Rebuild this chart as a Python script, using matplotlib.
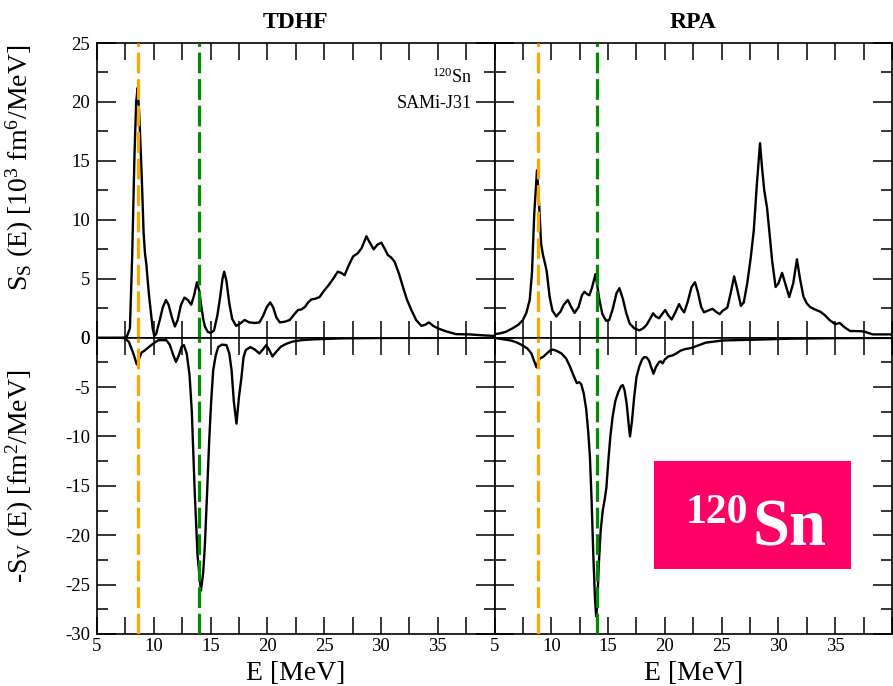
import matplotlib
matplotlib.use("Agg")
import matplotlib.pyplot as plt
from matplotlib.ticker import MultipleLocator, FixedLocator
from matplotlib.patches import Rectangle

# ---- strength functions of 120Sn (SAMi-J31) ----
# TDHF, isoscalar strength S_S [10^3 fm^6/MeV]
tdhf_s_E = [5.0, 6.0, 7.0, 7.6, 7.9, 8.1, 8.3, 8.45, 8.58, 8.72, 8.93, 9.1, 9.22, 9.35,
            9.46, 9.6, 9.75, 9.9, 10.04, 10.2, 10.5, 10.8, 11.07, 11.3, 11.6, 11.86, 12.1,
            12.4, 12.7, 13.0, 13.3, 13.55, 13.8, 14.0, 14.15, 14.35, 14.5, 14.75, 15.0,
            15.3, 15.6, 15.85, 16.05, 16.2, 16.4, 16.65, 16.9, 17.25, 17.6, 18.0, 18.4,
            18.9, 19.3, 19.6, 19.95, 20.25, 20.5, 20.8, 21.1, 21.5, 21.97, 22.3, 22.7,
            23.0, 23.3, 23.6, 23.88, 24.2, 24.6, 25.0, 25.35, 25.8, 26.2, 26.5, 26.8,
            27.1, 27.55, 27.95, 28.3, 28.72, 29.0, 29.36, 29.7, 30.04, 30.3, 30.62, 30.9,
            31.2, 31.6, 31.94, 32.3, 32.68, 33.1, 33.56, 33.9, 34.23, 34.6, 35.0, 35.7,
            36.6, 37.8, 39.0, 40.0]
tdhf_s_val = [0.0, 0.0, 0.0, 0.02, 0.8, 7.0, 15.5, 20.0, 21.2, 19.0, 13.9, 9.0, 7.2, 6.2,
              4.9, 3.4, 2.1, 0.8, 0.15, 0.3, 1.4, 2.6, 3.2, 2.8, 1.7, 0.95, 1.5,
              2.8, 3.4, 3.2, 2.8, 3.6, 4.7, 4.0, 2.9, 1.6, 0.95, 0.5, 0.4,
              0.6, 1.9, 3.5, 5.0, 5.6, 4.8, 2.9, 1.6, 1.0, 1.2, 1.5, 1.3,
              1.25, 1.3, 1.8, 2.6, 3.0, 2.6, 1.7, 1.3, 1.35, 1.5, 1.9, 2.35,
              2.4, 2.6, 3.0, 3.25, 3.3, 3.45, 4.0, 4.4, 5.0, 5.6, 5.5, 5.3,
              6.0, 6.9, 7.15, 7.6, 8.6, 8.1, 7.5, 7.9, 8.06, 7.6, 7.0, 6.8,
              6.45, 5.4, 4.3, 3.2, 2.35, 1.5, 1.0, 1.1, 1.3, 1.0, 0.8, 0.55,
              0.3, 0.28, 0.2, 0.15]

# TDHF, isovector strength -S_V [fm^2/MeV]
tdhf_v_E = [5.0, 7.0, 7.4, 7.8, 8.2, 8.5, 8.75, 8.93, 9.2, 9.5, 9.95, 10.4, 11.1, 11.4,
            11.7, 11.95, 12.2, 12.45, 12.65, 12.9, 13.15, 13.35, 13.6, 13.85, 14.15,
            14.35, 14.5, 14.7, 14.88, 15.05, 15.23, 15.45, 15.67, 16.0, 16.4, 16.65,
            16.85, 17.05, 17.28, 17.5, 17.72, 17.9, 18.1, 18.5, 18.9, 19.3, 19.6, 19.9,
            20.15, 20.45, 20.8, 21.2, 21.7, 22.2, 23.0, 24.0, 26.5, 30.0, 40.0]
tdhf_v_val = [0.0, 0.0, -0.05, -0.4, -1.6, -2.7, -2.0, -1.5, -1.3, -1.0, -0.6, -0.25, -0.25, -0.7,
              -1.7, -2.45, -1.8, -0.9, -0.75, -1.6, -3.8, -7.5, -15.5, -22.0, -25.6,
              -23.8, -21.0, -15.5, -10.4, -6.5, -3.3, -1.8, -0.95, -0.7, -0.75, -1.6,
              -3.3, -6.5, -8.7, -6.0, -4.0, -2.0, -1.25, -0.95, -1.2, -1.6, -1.2, -0.75,
              -1.2, -1.9, -1.4, -0.9, -0.6, -0.4, -0.25, -0.17, -0.07, -0.03, 0.0]

# RPA, isoscalar strength S_S [10^3 fm^6/MeV]
rpa_s_E = [5.0, 5.5, 6.0, 6.6, 7.1, 7.5, 7.8, 8.1, 8.3, 8.5, 8.74, 8.91, 9.1, 9.27, 9.45,
           9.6, 9.85, 10.1, 10.44, 10.8, 11.1, 11.46, 11.75, 12.05, 12.4, 12.7, 12.92,
           13.15, 13.36, 13.6, 13.89, 14.05, 14.24, 14.5, 14.82, 15.1, 15.4, 15.75, 16.0,
           16.3, 16.6, 16.9, 17.3, 17.75, 18.1, 18.4, 18.7, 18.97, 19.2, 19.5, 19.75,
           20.03, 20.3, 20.6, 20.9, 21.25, 21.5, 21.7, 22.0, 22.35, 22.65, 22.9, 23.2,
           23.45, 23.8, 24.2, 24.5, 24.83, 25.1, 25.5, 25.8, 26.1, 26.35, 26.7, 26.95,
           27.25, 27.55, 27.83, 28.1, 28.38, 28.55, 28.75, 29.0, 29.2, 29.45, 29.75,
           30.0, 30.32, 30.6, 30.95, 31.3, 31.63, 31.9, 32.2, 32.5, 32.8, 33.2, 33.7,
           34.1, 34.5, 35.0, 35.4, 35.8, 36.3, 37.3, 37.6, 38.3, 40.0]
rpa_s_val = [0.3, 0.37, 0.5, 0.8, 1.1, 1.5, 2.1, 3.2, 5.5, 10.5, 14.2, 11.7, 8.0, 7.0, 6.3,
             5.6, 3.5, 2.3, 1.8, 2.2, 2.8, 3.2, 2.6, 2.1, 2.6, 3.6, 3.9,
             3.7, 3.6, 4.3, 5.4, 4.4, 3.2, 2.0, 1.44, 1.5, 2.4, 3.8, 4.2,
             3.3, 2.1, 1.2, 0.8, 0.62, 0.8, 1.1, 1.6, 2.07, 1.8, 1.65, 2.0,
             2.35, 1.9, 1.55, 2.1, 2.85, 2.4, 2.15, 3.0, 4.3, 4.7, 3.9, 2.6,
             2.15, 2.3, 2.45, 2.2, 2.0, 2.3, 2.55, 3.8, 5.2, 4.2, 2.7, 3.0,
             4.6, 6.7, 9.1, 13.0, 16.5, 14.5, 12.5, 11.0, 9.0, 6.5, 4.3,
             4.6, 5.5, 4.6, 3.45, 4.6, 6.65, 5.0, 3.5, 2.9, 2.6, 2.4, 2.2,
             1.9, 1.5, 1.15, 1.25, 0.9, 0.57, 0.55, 0.5, 0.28, 0.28]

# RPA, isovector strength -S_V [fm^2/MeV]
rpa_v_E = [5.0, 6.0, 6.5, 7.0, 7.5, 7.9, 8.25, 8.5, 8.7, 8.85, 9.0, 9.27, 9.6, 9.9, 10.15,
           10.5, 10.9, 11.3, 11.6, 11.95, 12.25, 12.45, 12.63, 12.85, 13.07, 13.25, 13.4,
           13.55, 13.7, 13.85, 13.95, 14.05, 14.18, 14.35, 14.53, 14.7, 14.85, 15.0, 15.2,
           15.4, 15.64, 15.9, 16.15, 16.29, 16.45, 16.64, 16.8, 16.93, 17.1, 17.3, 17.5,
           17.75, 18.0, 18.19, 18.4, 18.6, 18.8, 19.0, 19.2, 19.5, 19.65, 19.8, 20.0,
           20.3, 20.67, 21.0, 21.4, 21.8, 22.3, 22.9, 23.6, 25.1, 28.0, 31.0, 35.0, 40.0]
rpa_v_val = [-0.02, -0.2, -0.3, -0.5, -0.8, -1.1, -1.6, -2.4, -3.0, -2.4, -2.1, -1.95, -1.6, -1.3, -1.2,
             -1.35, -1.6, -2.1, -2.8, -3.8, -4.6, -4.5, -4.7, -5.6, -7.2, -9.5, -12.0,
             -16.5, -22.0, -26.5, -28.2, -27.0, -23.0, -19.5, -17.5, -16.4, -15.2, -12.8, -10.0,
             -8.0, -6.4, -5.5, -4.9, -4.8, -5.3, -6.7, -8.6, -10.0, -8.5, -6.0, -4.0,
             -2.9, -2.2, -1.96, -2.0, -2.3, -3.0, -3.65, -3.0, -2.45, -2.4, -2.6, -2.2,
             -1.9, -1.8, -1.6, -1.3, -1.15, -1.05, -0.8, -0.5, -0.28, -0.2, -0.1, -0.05, -0.02]

# marked energies [MeV]: low-lying peak (orange) and isovector peak (green)
tdhf_marks = [8.58, 13.95]
rpa_marks = [8.8, 14.0]
mark_colors = ["#FFA500", "#008C00"]

x_ticks = [5, 10, 15, 20, 25, 30, 35]
upper_ticks = [0, 5, 10, 15, 20, 25]
lower_ticks = [0, -5, -10, -15, -20, -25, -30]

# ---- style ----
plt.rcParams["font.family"] = ["Liberation Serif", "DejaVu Serif"]
plt.rcParams["mathtext.fontset"] = "custom"
plt.rcParams["mathtext.rm"] = "Liberation Serif"
plt.rcParams["mathtext.it"] = "Liberation Serif:italic"
plt.rcParams["mathtext.bf"] = "Liberation Serif:bold"
plt.rcParams["mathtext.default"] = "regular"

W, H = 893, 686
fig = plt.figure(figsize=(W / 100, H / 100), dpi=100)


def px_box(x0, y0, x1, y1):
    return [x0 / W, 1 - y1 / H, (x1 - x0) / W, (y1 - y0) / H]


def fx(x):
    return x / W


def fy(y):
    return 1 - y / H


XL, XM, XR = 97, 494.5, 892
YT, YM, YB = 43, 337.7, 634

ax_tl = fig.add_axes(px_box(XL, YT, XM, YM))
ax_tr = fig.add_axes(px_box(XM, YT, XR, YM))
ax_bl = fig.add_axes(px_box(XL, YM, XM, YB))
ax_br = fig.add_axes(px_box(XM, YM, XR, YB))

panels = [
    (ax_tl, tdhf_s_E, tdhf_s_val, tdhf_marks, (0, 25), upper_ticks, True, False),
    (ax_tr, rpa_s_E, rpa_s_val, rpa_marks, (0, 25), upper_ticks, False, False),
    (ax_bl, tdhf_v_E, tdhf_v_val, tdhf_marks, (-30, 0), lower_ticks, True, True),
    (ax_br, rpa_v_E, rpa_v_val, rpa_marks, (-30, 0), lower_ticks, False, True),
]

for ax, E, val, marks, ylim, yt, show_y, show_x in panels:
    ax.plot(E, val, color="black", lw=1.7, zorder=3, solid_joinstyle="round")
    for m, c in zip(marks, mark_colors):
        ax.axvline(m, color=c, lw=2.3, dashes=(6.5, 1.8), zorder=4)
    ax.set_xlim(5, 40)
    ax.set_ylim(*ylim)
    ax.xaxis.set_major_locator(FixedLocator(x_ticks + [40]))
    ax.xaxis.set_minor_locator(MultipleLocator(2.5))
    ax.yaxis.set_major_locator(FixedLocator(yt))
    ax.yaxis.set_minor_locator(MultipleLocator(2.5))
    ax.tick_params(which="both", direction="in", top=True, right=True,
                   width=1.1, colors="black", labelsize=13.5)
    ax.tick_params(axis="x", which="both", length=12, pad=3)
    ax.tick_params(axis="y", which="major", length=14, pad=5)
    ax.tick_params(axis="y", which="minor", length=8)
    for sp in ax.spines.values():
        sp.set_linewidth(1.2)
    if show_x:
        ax.set_xticklabels([str(t) for t in x_ticks] + [""])
    else:
        ax.set_xticklabels([])
    if show_y:
        ax.set_yticklabels([str(t) for t in yt])
    else:
        ax.set_yticklabels([])

# panel titles
fig.text(fx((XL + XM) / 2), fy(22), "TDHF", ha="center", va="center",
         fontsize=17, fontweight="bold")
fig.text(fx((XM + XR) / 2), fy(22), "RPA", ha="center", va="center",
         fontsize=17, fontweight="bold")

# axis labels
fig.text(fx(296), fy(680), "E [MeV]", ha="center", va="baseline", fontsize=20)
fig.text(fx(694), fy(680), "E [MeV]", ha="center", va="baseline", fontsize=20)
fig.text(fx(20), fy(168), r"S$_{S}$ (E) [10$^{3}$ fm$^{6}$/MeV]", rotation=90,
         ha="center", va="center", fontsize=20)
fig.text(fx(20), fy(476), r"-S$_{V}$ (E) [fm$^{2}$/MeV]", rotation=90,
         ha="center", va="center", fontsize=20)

# nucleus / interaction tag
fig.text(fx(472), fy(83), r"$^{120}$Sn", ha="right", va="baseline", fontsize=13)
fig.text(fx(472), fy(108), "SAMi-J31", ha="right", va="baseline", fontsize=13)

# highlighted label box
fig.patches.append(Rectangle((fx(654), fy(569)), fx(851) - fx(654), fy(461) - fy(569),
                             transform=fig.transFigure, facecolor="#FF0066",
                             edgecolor="none", zorder=5))
fig.text(fx(686), fy(523), "120", ha="left", va="baseline", fontsize=30,
         fontweight="bold", color="white", zorder=6)
fig.text(fx(752), fy(545), "Sn", ha="left", va="baseline", fontsize=48,
         fontweight="bold", color="white", zorder=6)

fig.savefig("out.png", dpi=100)
